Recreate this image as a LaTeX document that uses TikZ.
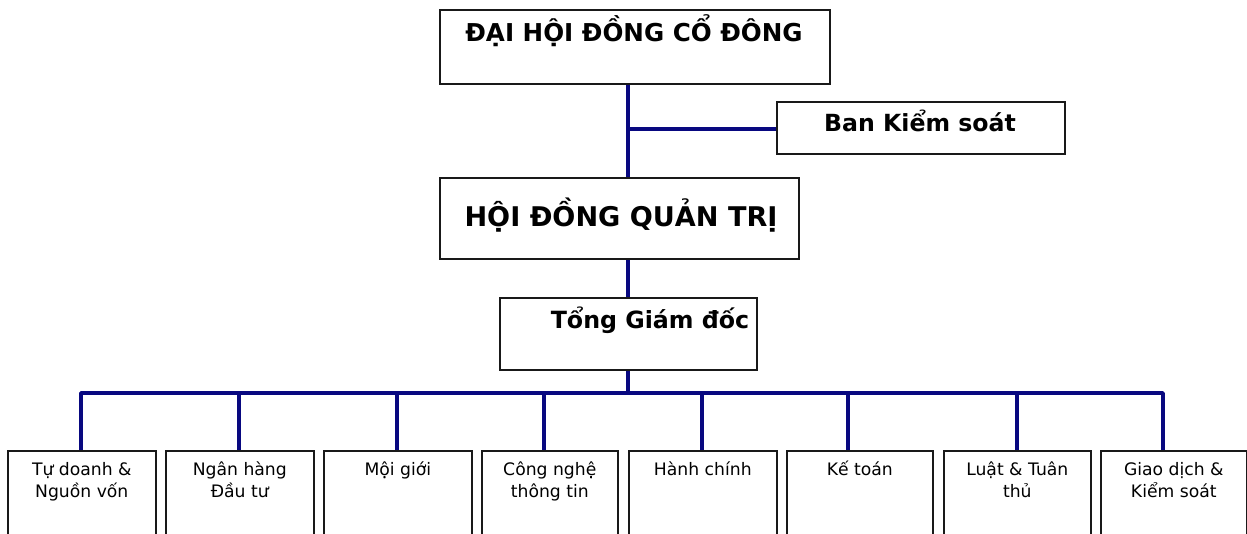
\documentclass[tikz,border=0pt]{standalone}
\usepackage{fontspec}
\setmainfont{DejaVu Sans}
\definecolor{navy}{RGB}{8,8,128}
\definecolor{boxline}{RGB}{25,25,25}
\begin{document}
\begin{tikzpicture}[x=1pt,y=-1pt,
  box/.style={draw=boxline, line width=1.6pt, inner sep=0pt, anchor=north west, fill=white},
  link/.style={draw=navy, line width=3.4pt, line join=round},
  ttl/.style={anchor=base, inner sep=0pt},
  lbl/.style={anchor=base, inner sep=0pt}]
\path[use as bounding box] (0,0) rectangle (1247,534);
\clip (0,0) rectangle (1247,534);
% spine and bus coordinates
\coordinate (sp) at (628,0);
\coordinate (d1) at (81,393);
\coordinate (d2) at (239,393);
\coordinate (d3) at (397,393);
\coordinate (d4) at (544,393);
\coordinate (d5) at (702,393);
\coordinate (d6) at (848,393);
\coordinate (d7) at (1017,393);
\coordinate (d8) at (1163,393);
\coordinate (bus) at (628,393);
% top boxes
\node[box, minimum width=390pt, minimum height=74pt] (dh) at (439,9) {};
\node[box, minimum width=288pt, minimum height=52pt] (bks) at (776,101) {};
\node[box, minimum width=359pt, minimum height=81pt] (hd) at (439,177) {};
\node[box, minimum width=257pt, minimum height=72pt] (tgd) at (499,297) {};
% bottom boxes
\node[box, minimum width=148pt, minimum height=110pt] (b1) at (7,450) {};
\node[box, minimum width=148pt, minimum height=110pt] (b2) at (165,450) {};
\node[box, minimum width=148pt, minimum height=110pt] (b3) at (323,450) {};
\node[box, minimum width=136pt, minimum height=110pt] (b4) at (481,450) {};
\node[box, minimum width=148pt, minimum height=110pt] (b5) at (628,450) {};
\node[box, minimum width=146pt, minimum height=110pt] (b6) at (786,450) {};
\node[box, minimum width=147pt, minimum height=110pt] (b7) at (943,450) {};
\node[box, minimum width=146pt, minimum height=110pt] (b8) at (1100,450) {};
% titles
\node[ttl, font=\bfseries\fontsize{24.6}{28}\selectfont] (tdh) at (634,42) {ĐẠI HỘI ĐỒNG CỔ ĐÔNG};
\node[ttl, font=\bfseries\fontsize{23.6}{26}\selectfont] (tbks) at (920,132) {Ban Kiểm soát};
\node[ttl, font=\bfseries\fontsize{27.1}{30}\selectfont] (thd) at (621,227) {HỘI ĐỒNG QUẢN TRỊ};
\node[ttl, font=\bfseries\fontsize{23.7}{26}\selectfont] (ttgd) at (650,329) {Tổng Giám đốc};
% bottom labels
\foreach \n/\t in {b1/{Tự doanh \&\\Nguồn vốn}, b2/{Ngân hàng\\Đầu tư}, b3/{Mội giới},
  b4/{Công nghệ\\thông tin}, b5/{Hành chính}, b6/{Kế toán}, b7/{Luật \& Tuân\\thủ},
  b8/{Giao dịch \&\\Kiểm soát}}{
  \node[lbl] (l\n) at ([yshift=-25pt]\n.north) {\parbox[t]{140pt}{\centering\fontsize{17.2}{22}\selectfont \t}};
}
% connectors
\draw[link] (dh.south -| sp) -- (hd.north -| sp);
\draw[link] (sp |- 0,129) -- (bks.west |- 0,129);
\draw[link] (hd.south -| sp) -- (tgd.north -| sp);
\draw[link] (tgd.south -| sp) -- (bus);
\draw[link] (b1.north -| d1) -- (d1) -- (d8) -- (b8.north -| d8);
\draw[link] (d2) -- (b2.north -| d2);
\draw[link] (d3) -- (b3.north -| d3);
\draw[link] (d4) -- (b4.north -| d4);
\draw[link] (d5) -- (b5.north -| d5);
\draw[link] (d6) -- (b6.north -| d6);
\draw[link] (d7) -- (b7.north -| d7);
\end{tikzpicture}
\end{document}
